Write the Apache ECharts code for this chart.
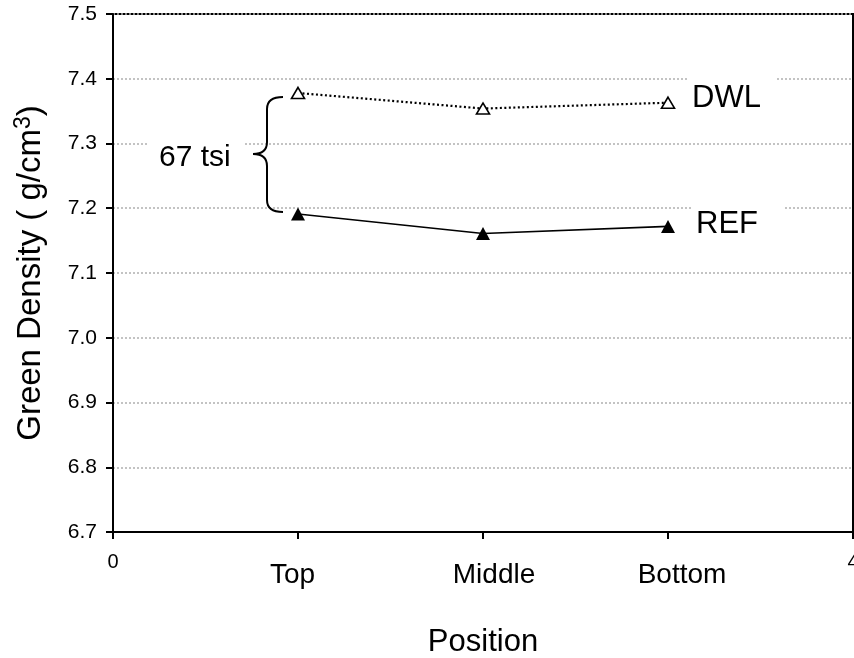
<!DOCTYPE html>
<html>
<head>
<meta charset="utf-8">
<script src="https://cdn.jsdelivr.net/npm/echarts@6/dist/echarts.min.js"></script>
<style>
html,body{margin:0;padding:0;background:#fff;}
#chart{width:854px;height:658px;}
</style>
</head>
<body>
<div id="chart"></div>
<script>
// ---- data ----
const categories = ['Top', 'Middle', 'Bottom'];
const positions = [1, 2, 3];
const dwlValues = [7.378, 7.354, 7.363];
const refValues = [7.191, 7.161, 7.172];
const xEdgeLabels = [0, 4];
const yMin = 6.7, yMax = 7.5, yStep = 0.1;
const xMin = 0, xMax = 4, xStep = 1;

const FONT = '"Liberation Sans", Arial, Helvetica, sans-serif';
const chart = echarts.init(document.getElementById('chart'), null, {renderer: 'canvas'});

const catShift = [[0, 11, 0, 0], [0, 0, 0, 22], [0, 0, 0, 28]];
const rich = {};
categories.forEach((c, i) => {
  rich['c' + i] = {fontSize: 28, fontFamily: FONT, color: '#000', padding: catShift[i]};
});

const braceStyle = {fill: 'none', stroke: '#000', lineWidth: 2};
function curve(x1, y1, cx, cy, x2, y2) {
  return {type: 'bezierCurve', z: 4, shape: {x1: x1, y1: y1, cpx1: cx, cpy1: cy, x2: x2, y2: y2}, style: braceStyle};
}
function seg(x1, y1, x2, y2) {
  return {type: 'line', z: 4, shape: {x1: x1, y1: y1, x2: x2, y2: y2}, style: braceStyle};
}

const option = {
  backgroundColor: '#fff',
  animation: false,
  grid: {left: 113, right: 1, top: 14, bottom: 126, containLabel: false, outerBoundsMode: 'none',
         show: true, borderColor: '#000', borderWidth: 2, backgroundColor: 'transparent'},
  xAxis: [
    {
      type: 'value', min: xMin, max: xMax, interval: xStep, position: 'bottom',
      name: 'Position', nameLocation: 'middle', nameGap: 95,
      nameTextStyle: {fontSize: 31, fontFamily: FONT, color: '#000'},
      axisLine: {show: true, lineStyle: {color: '#000', width: 2}},
      axisTick: {show: true, inside: false, length: 7, lineStyle: {color: '#000', width: 2}},
      axisLabel: {
        show: true, margin: 20, fontSize: 20, fontFamily: FONT, color: '#000',
        showMinLabel: true, showMaxLabel: true, hideOverlap: false,
        formatter: v => (xEdgeLabels.indexOf(v) >= 0 ? String(v) : '')
      },
      splitLine: {show: false}
    },
    {
      type: 'value', min: xMin, max: xMax, interval: xStep, position: 'bottom', offset: 0,
      axisLine: {show: false}, axisTick: {show: false}, splitLine: {show: false},
      axisLabel: {
        show: true, margin: 29, fontSize: 28, fontFamily: FONT, color: '#000',
        formatter: v => {
          const i = positions.indexOf(v);
          return i < 0 ? '' : '{c' + i + '|' + categories[i] + '}';
        },
        rich: rich
      }
    }
  ],
  yAxis: {
    type: 'value', min: yMin, max: yMax, interval: yStep,
    name: 'Green Density ( g/cm{sup|3})', nameLocation: 'middle', nameGap: 63,
    nameTextStyle: {
      fontSize: 33, fontFamily: FONT, color: '#000',
      rich: {sup: {fontSize: 23, fontFamily: FONT, color: '#000', verticalAlign: 'top', padding: [0, 0, 15, 0]}}
    },
    axisLine: {show: true, lineStyle: {color: '#000', width: 2}},
    axisTick: {show: true, inside: false, length: 7, lineStyle: {color: '#000', width: 2}},
    axisLabel: {margin: 16, fontSize: 21, fontFamily: FONT, color: '#000', formatter: v => v.toFixed(1)},
    splitLine: {show: true, lineStyle: {color: '#b0b0b0', width: 1.5, type: [2, 2]}}
  },
  series: [
    {
      name: 'DWL', type: 'line', xAxisIndex: 0,
      data: positions.map((x, i) => [x, dwlValues[i]]),
      symbol: 'triangle', symbolSize: [13, 11],
      itemStyle: {color: '#fff', borderColor: '#000', borderWidth: 1.6},
      lineStyle: {color: '#000', width: 2.2, type: [2, 2.5]},
      z: 5
    },
    {
      name: 'REF', type: 'line', xAxisIndex: 0,
      data: positions.map((x, i) => [x, refValues[i]]),
      symbol: 'triangle', symbolSize: [14, 13],
      itemStyle: {color: '#000', borderColor: '#000', borderWidth: 0},
      lineStyle: {color: '#000', width: 1.6, type: 'solid'},
      z: 5
    }
  ],
  graphic: [
    {type: 'rect', z: 3, shape: {x: 688, y: 76, width: 88, height: 38}, style: {fill: '#fff'}},
    {type: 'rect', z: 3, shape: {x: 691, y: 204, width: 92, height: 38}, style: {fill: '#fff'}},
    {type: 'rect', z: 3, shape: {x: 147, y: 139, width: 98, height: 38}, style: {fill: '#fff'}},
    {type: 'text', z: 4, style: {text: 'DWL', x: 692, y: 98, font: '31px ' + FONT, fill: '#000', textAlign: 'left', textVerticalAlign: 'middle', align: 'left', verticalAlign: 'middle'}},
    {type: 'text', z: 4, style: {text: 'REF', x: 696, y: 224, font: '31px ' + FONT, fill: '#000', textAlign: 'left', textVerticalAlign: 'middle', align: 'left', verticalAlign: 'middle'}},
    {type: 'text', z: 4, style: {text: '67 tsi', x: 159, y: 158, font: '30px ' + FONT, fill: '#000', textAlign: 'left', textVerticalAlign: 'middle', align: 'left', verticalAlign: 'middle'}},
    curve(283, 97, 267, 97, 267, 109),
    seg(267, 109, 267, 142),
    curve(267, 142, 267, 154, 253, 154),
    curve(253, 154, 267, 154, 267, 166),
    seg(267, 166, 267, 200),
    curve(267, 200, 267, 212, 283, 212)
  ]
};
chart.setOption(option);
</script>
</body>
</html>
